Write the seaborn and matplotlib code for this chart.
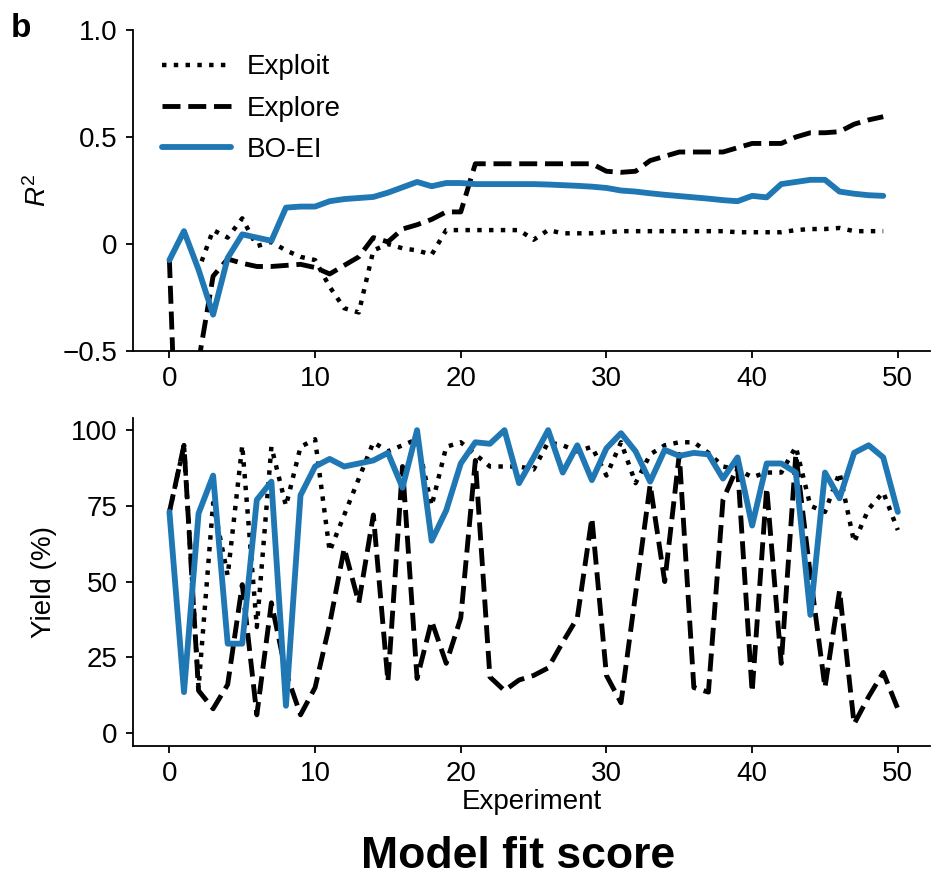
import matplotlib
matplotlib.use('Agg')
import numpy as np
import pandas as pd
import seaborn as sns
from matplotlib import pyplot as plt

# top panel: R^2 of the model fit after each experiment (0..49)
r2_exploit = [-0.075, 0.06, -0.12, 0.065, 0.03, 0.12, -0.01, 0.01, -0.03, -0.06,
              -0.075, -0.2, -0.3, -0.32, -0.03, 0.0, -0.02, -0.03, -0.05, 0.065,
              0.065, 0.065, 0.065, 0.065, 0.065, 0.02, 0.065, 0.05, 0.05, 0.05,
              0.055, 0.06, 0.06, 0.06, 0.06, 0.06, 0.06, 0.06, 0.06, 0.055,
              0.055, 0.055, 0.055, 0.065, 0.07, 0.07, 0.075, 0.06, 0.06, 0.06]
r2_explore = [-0.075, -2.0, -0.55, -0.15, -0.07, -0.09, -0.105, -0.105, -0.1, -0.095,
              -0.11, -0.14, -0.1, -0.06, 0.03, 0.01, 0.07, 0.09, 0.115, 0.15,
              0.15, 0.375, 0.375, 0.375, 0.375, 0.375, 0.375, 0.375, 0.375, 0.375,
              0.34, 0.335, 0.34, 0.39, 0.41, 0.43, 0.43, 0.43, 0.43, 0.45,
              0.47, 0.47, 0.47, 0.5, 0.52, 0.52, 0.525, 0.56, 0.58, 0.595]
r2_boei = [-0.075, 0.06, -0.12, -0.33, -0.065, 0.045, 0.03, 0.015, 0.17, 0.175,
           0.175, 0.2, 0.21, 0.215, 0.22, 0.24, 0.265, 0.29, 0.27, 0.285,
           0.285, 0.28, 0.28, 0.28, 0.28, 0.28, 0.278, 0.275, 0.272, 0.268,
           0.262, 0.25, 0.245, 0.237, 0.23, 0.224, 0.218, 0.212, 0.205, 0.2,
           0.225, 0.218, 0.28, 0.29, 0.3, 0.3, 0.245, 0.235, 0.228, 0.225]

# bottom panel: yield of each experiment (0..50)
yield_exploit = [73, 95, 15, 76, 52, 95, 35, 94.5, 75, 94.5,
                 97, 60, 72, 84, 96, 93, 95, 97, 75, 94.5,
                 96, 92, 88, 88, 88, 87, 96, 95, 93, 94.5,
                 85, 96, 82.5, 92, 95, 96, 96, 92.5, 88, 87,
                 84.5, 86, 86, 94.5, 75, 73, 86, 63, 74, 79.5, 67]
yield_explore = [73, 95, 14, 8, 16, 49, 6, 43, 20, 6,
                 15, 36, 61, 43, 72, 17, 88, 18, 37, 23,
                 38, 90, 18.5, 14, 17.5, 19, 21.5, 30, 38, 71,
                 19, 10, 46, 82, 50, 92, 15, 13.5, 77, 88,
                 13.5, 81, 23, 92, 52, 15, 47, 3, 12, 20, 8]
yield_boei = [73, 13.5, 72.5, 85, 29.5, 29.5, 77, 83, 9, 78.5,
              88, 90.5, 88, 89, 90, 92.5, 81, 100, 63.5, 73.5,
              89, 96, 95.5, 100, 82.5, 91, 100, 86, 95, 83.5,
              94, 99, 93, 83, 93.5, 91.5, 92.5, 92, 84, 91,
              68.5, 89, 89, 86, 39, 86, 77.5, 92.5, 95, 91, 73]

strategies = ['Exploit', 'Explore', 'BO-EI']
r2_ticks = [-0.5, 0, 0.5, 1.0]
r2_tick_labels = ['\u22120.5', '0', '0.5', '1.0']
yield_ticks = [0, 25, 50, 75, 100]
exp_ticks = [0, 10, 20, 30, 40, 50]

sns.set_style('ticks')
plt.rcParams['font.family'] = ['Liberation Sans', 'DejaVu Sans']
plt.rcParams['mathtext.fontset'] = 'custom'
plt.rcParams['mathtext.rm'] = 'Liberation Sans'
plt.rcParams['mathtext.it'] = 'Liberation Sans:italic'
for key in ['text.color', 'axes.labelcolor', 'axes.edgecolor', 'xtick.color', 'ytick.color']:
    plt.rcParams[key] = 'black'
plt.rcParams['axes.linewidth'] = 1.3
plt.rcParams['xtick.major.width'] = 1.3
plt.rcParams['ytick.major.width'] = 1.3
plt.rcParams['xtick.major.size'] = 5
plt.rcParams['ytick.major.size'] = 5

styles = {'Exploit': dict(color='black', linestyle=':', linewidth=3.2),
          'Explore': dict(color='black', linestyle='--', linewidth=3.5),
          'BO-EI': dict(color='#1f77b4', linestyle='-', linewidth=4.2)}

fig = plt.figure(figsize=(9.32, 8.81), dpi=100)
ax1 = fig.add_axes([0.1427, 0.6016, 0.855, 0.3643])
ax2 = fig.add_axes([0.1427, 0.1532, 0.855, 0.3723])

# R^2 panel
for name, vals in zip(strategies, [r2_exploit, r2_explore, r2_boei]):
    sns.lineplot(x=np.arange(len(vals)), y=vals, ax=ax1, label=name, **styles[name])
ax1.set_ylim(-0.5, 1.0)
ax1.set_xlim(-2.5, 52.2)
ax1.set_yticks(r2_ticks)
ax1.set_yticklabels(r2_tick_labels)
ax1.set_xticks(exp_ticks)
ax1.set_ylabel('$\\mathit{R}^2$', fontsize=20, labelpad=8)
ax1.tick_params(labelsize=20, pad=6)
ax1.legend(loc='upper left', bbox_to_anchor=(0.012, 0.985), frameon=False, fontsize=20,
           handlelength=2.5, handletextpad=0.55, labelspacing=0.55, borderaxespad=0.3)

# yield panel
for name, vals in zip(strategies, [yield_exploit, yield_explore, yield_boei]):
    sns.lineplot(x=np.arange(len(vals)), y=vals, ax=ax2, legend=False, **styles[name])
ax2.set_ylim(-4.3, 104)
ax2.set_xlim(-2.5, 52.2)
ax2.set_yticks(yield_ticks)
ax2.set_xticks(exp_ticks)
ax2.set_ylabel('Yield (%)', fontsize=20, labelpad=10)
ax2.set_xlabel('Experiment', fontsize=20, labelpad=1)
ax2.tick_params(labelsize=20, pad=6)

sns.despine(fig=fig)

fig.text(0.012, 0.968, 'b', fontsize=24, fontweight='bold', va='center')
fig.text(0.556, 0.028, 'Model fit score', fontsize=32, fontweight='bold', ha='center', va='center')

fig.savefig('out.png', dpi=100)
plt.close(fig)
